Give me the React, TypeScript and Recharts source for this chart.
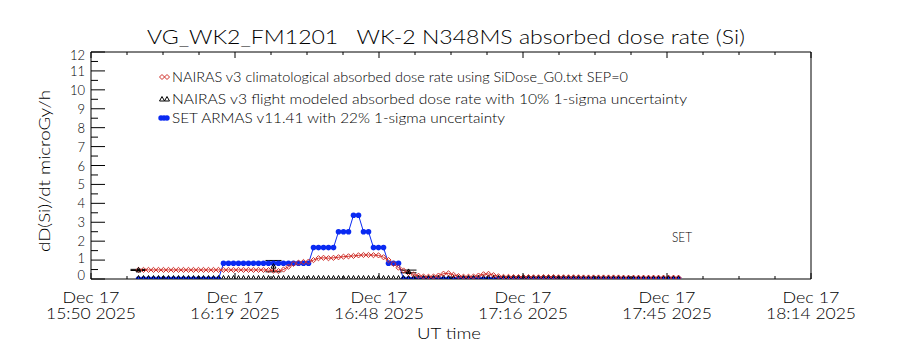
import React from 'react';
import { ComposedChart, Line, Scatter, ErrorBar, XAxis, YAxis } from 'recharts';

// minutes after 15:50 UT of the first sample, one sample per minute after that
const START_MIN = 9.5;

// SET ARMAS v11.41 dose rate (microGy/h)
const armasRate = [
  0, 0, 0, 0, 0, 0, 0, 0, 0, 0, 0, 0, 0, 0, 0, 0, 0,
  0.83, 0.83, 0.83, 0.83, 0.83, 0.83, 0.83, 0.83, 0.83, 0.83, 0.83, 0.83, 0.83, 0.83, 0.83, 0.83, 0.83, 0.83,
  1.66, 1.66, 1.66, 1.66, 1.66,
  2.5, 2.5, 2.5,
  3.37, 3.37,
  2.5, 2.5,
  1.66, 1.66, 1.66,
  0.83, 0.83, 0.83,
  0, 0, 0, 0, 0, 0, 0, 0, 0, 0, 0, 0, 0, 0, 0, 0, 0, 0, 0, 0, 0, 0, 0, 0, 0, 0, 0, 0,
  0, 0, 0, 0, 0, 0, 0, 0, 0, 0, 0, 0, 0, 0, 0, 0, 0, 0, 0, 0, 0, 0, 0, 0, 0, 0, 0, 0,
];

// NAIRAS v3 climatological rate (SiDose_G0.txt, SEP=0)
const climRate = [
  0.48, 0.48, 0.48, 0.48, 0.48, 0.48, 0.48, 0.48, 0.48, 0.48, 0.48, 0.48, 0.48,
  0.48, 0.48, 0.48, 0.48, 0.48, 0.48, 0.48, 0.48, 0.48, 0.48, 0.48, 0.48, 0.48,
  0.47, 0.44, 0.42, 0.5, 0.65, 0.8, 0.86, 0.9, 0.92, 1.0, 1.1, 1.12, 1.1, 1.12,
  1.15, 1.18, 1.2, 1.22, 1.25, 1.27, 1.27, 1.26, 1.25, 1.15, 1.0, 0.8, 0.6, 0.45,
  0.32, 0.24, 0.17, 0.13, 0.12, 0.13, 0.18, 0.28, 0.3, 0.22, 0.15, 0.12, 0.12, 0.13,
  0.18, 0.25, 0.27, 0.2, 0.14,
  0.11, 0.11, 0.1, 0.1, 0.1, 0.1, 0.09, 0.09, 0.1, 0.1, 0.1, 0.09, 0.09, 0.09, 0.09,
  0.09, 0.08, 0.08, 0.08, 0.08, 0.08, 0.08, 0.08, 0.08, 0.07, 0.07, 0.07, 0.07, 0.07,
  0.07, 0.07, 0.07, 0.07, 0.07, 0.07, 0.07,
];

// NAIRAS v3 flight modeled rate, baseline samples
const flightRate = [
  0, 0, 0, 0, 0, 0, 0, 0, 0, 0, 0, 0, 0, 0, 0, 0, 0, 0, 0, 0, 0, 0, 0, 0, 0, 0, 0,
  0, 0, 0, 0, 0, 0, 0, 0, 0, 0, 0, 0, 0, 0, 0, 0, 0, 0, 0, 0, 0, 0, 0, 0, 0, 0, 0,
  0, 0, 0, 0, 0, 0, 0, 0, 0, 0, 0, 0, 0, 0, 0, 0, 0, 0, 0, 0, 0, 0, 0, 0, 0, 0, 0,
  0, 0, 0, 0, 0, 0, 0, 0, 0, 0, 0, 0, 0, 0, 0, 0, 0, 0, 0, 0, 0, 0, 0, 0, 0, 0, 0, 0,
];

// flight modeled points with 1-sigma error
const flightMin = [9.5, 36.5, 63.5];
const flightVal = [0.48, 0.68, 0.4];
const flightErr = [0.03, 0.3, 0.07];

const xTicks = [0, 7.2, 14.4, 21.6, 28.8, 36, 43.2, 50.4, 57.6, 64.8, 72, 79.2, 86.4, 93.6, 100.8, 108, 115.2, 122.4, 129.6, 136.8, 144];
const xMajorLabels = ['15:50', '16:19', '16:48', '17:16', '17:45', '18:14'];
const yTicks = [0, 0.5, 1, 1.5, 2, 2.5, 3, 3.5, 4, 4.5, 5, 5.5, 6, 6.5, 7, 7.5, 8, 8.5, 9, 9.5, 10, 10.5, 11, 11.5, 12];

const FONT = 'Lato, "Liberation Sans", sans-serif';
const FW = 300;
const RED = '#d0302a';
const BLUE = '#0a2af2';

const rows = armasRate.map((a, i) => ({
  t: START_MIN + i,
  armas: a,
  clim: climRate[i],
  flight: flightRate[i],
}));

const flightPts = flightMin.map((t, i) => ({ t, v: flightVal[i], e: flightErr[i] }));

const isMajorX = (v: number) => Math.round(v / 7.2) % 4 === 0;

const BottomTick = ({ x, y, payload }: any) => {
  const v = payload.value;
  const major = isMajorX(v);
  const lbl = xMajorLabels[Math.round(v / 28.8)];
  return (
    <g>
      <line x1={x} x2={x} y1={y} y2={y - (major ? 6 : 3)} stroke="#000" />
      {major && (
        <text x={x} y={y + 24} textAnchor="middle" fontSize={16} fontWeight={FW} fontFamily={FONT} fill="#000" textLength={57} lengthAdjust="spacingAndGlyphs">
          Dec 17
        </text>
      )}
      {major && (
        <text x={x} y={y + 40} textAnchor="middle" fontSize={16} fontWeight={FW} fontFamily={FONT} fill="#000" textLength={90} lengthAdjust="spacingAndGlyphs">
          {lbl} 2025
        </text>
      )}
    </g>
  );
};

const TopTick = ({ x, y, payload }: any) => (
  <line x1={x} x2={x} y1={y} y2={y + (isMajorX(payload.value) ? 6 : 3)} stroke="#000" />
);

const LeftTick = ({ x, y, payload }: any) => {
  const v = payload.value;
  const major = Number.isInteger(v);
  const dy = v === 12 ? 8 : v === 0 ? 1 : v === 1 ? 3 : 5;
  return (
    <g>
      <line x1={x} x2={x + (major ? 14 : 7)} y1={y} y2={y} stroke="#000" />
      {major && (
        <text x={x - 6} y={y + dy} textAnchor="end" fontSize={13} fontWeight={FW} fontFamily={FONT} fill="#000">
          {v}
        </text>
      )}
    </g>
  );
};

const RightTick = ({ x, y, payload }: any) => (
  <line x1={x} x2={x - (Number.isInteger(payload.value) ? 14 : 7)} y1={y} y2={y} stroke="#000" />
);

const diamond = (cx: number, cy: number, r: number) =>
  `M${cx},${cy - r}L${cx + r},${cy}L${cx},${cy + r}L${cx - r},${cy}Z`;

const triangle = (cx: number, cy: number, r: number) =>
  `M${cx - r},${cy + r * 0.8}L${cx},${cy - r}L${cx + r},${cy + r * 0.8}Z`;

const ClimDot = (p: any) => (
  <path key={`c-${p.index}`} d={diamond(p.cx, p.cy, 2.6)} fill="none" stroke={RED} strokeWidth={1} />
);

const ArmasDot = (p: any) => <circle key={`a-${p.index}`} cx={p.cx} cy={p.cy} r={2.8} fill={BLUE} />;

const FlightDot = (p: any) => (
  <path key={`f-${p.index}`} d={`M${p.cx - 1.8},${p.cy}L${p.cx},${p.cy - 3.5}L${p.cx + 1.8},${p.cy}`} fill="none" stroke="#000" strokeWidth={1} />
);

const FlightShape = (p: any) => (
  <path d={triangle(p.cx, p.cy, 2.5)} fill="none" stroke="#000" strokeWidth={1} />
);

const Overlay = () => (
  <svg width={900} height={350} style={{ position: 'absolute', left: 0, top: 0, pointerEvents: 'none' }}>
    <g fontFamily={FONT} fontWeight={FW} fill="#000">
      <text x={446} y={44} textAnchor="middle" fontSize={20} textLength={598} lengthAdjust="spacingAndGlyphs" style={{ whiteSpace: 'pre' }}>
        VG_WK2_FM1201   WK-2 N348MS absorbed dose rate (Si)
      </text>
      <text transform="translate(50,171) rotate(-90)" textAnchor="middle" fontSize={16} textLength={162} lengthAdjust="spacingAndGlyphs">
        dD(Si)/dt microGy/h
      </text>
      <text x={449} y={339} textAnchor="middle" fontSize={16} textLength={64} lengthAdjust="spacingAndGlyphs">
        UT time
      </text>
      <text x={672} y={242} fontSize={14} textLength={20} lengthAdjust="spacingAndGlyphs">
        SET
      </text>
      <text x={172} y={82} fontSize={14} textLength={456} lengthAdjust="spacingAndGlyphs">
        NAIRAS v3 climatological absorbed dose rate using SiDose_G0.txt SEP=0
      </text>
      <text x={172} y={104} fontSize={14} textLength={515} lengthAdjust="spacingAndGlyphs">
        NAIRAS v3 flight modeled absorbed dose rate with 10% 1-sigma uncertainty
      </text>
      <text x={172} y={123} fontSize={14} textLength={333} lengthAdjust="spacingAndGlyphs">
        SET ARMAS v11.41 with 22% 1-sigma uncertainty
      </text>
    </g>
    <path d={diamond(162, 77, 2.5)} fill="none" stroke={RED} />
    <path d={diamond(167, 77, 2.5)} fill="none" stroke={RED} />
    <path d={triangle(162, 99, 2.5)} fill="none" stroke="#000" />
    <path d={triangle(167, 99, 2.5)} fill="none" stroke="#000" />
    <circle cx={161} cy={118} r={2.7} fill={BLUE} />
    <circle cx={164} cy={118} r={2.7} fill={BLUE} />
    <circle cx={167} cy={118} r={2.7} fill={BLUE} />
  </svg>
);

export default function App() {
  return (
    <div style={{ position: 'absolute', left: 0, top: 0, width: 900, height: 350, background: '#fff' }}>
      <ComposedChart width={900} height={350} data={rows} margin={{ top: 51, right: 88, bottom: 0, left: 0 }}>
        <XAxis
          xAxisId="b"
          dataKey="t"
          type="number"
          domain={[0, 144]}
          ticks={xTicks}
          interval={0}
          height={71}
          tickSize={0}
          tickMargin={0}
          tickLine={false}
          axisLine={{ stroke: '#000' }}
          tick={<BottomTick />}
          allowDataOverflow
        />
        <XAxis
          xAxisId="top"
          orientation="top"
          dataKey="t"
          type="number"
          domain={[0, 144]}
          ticks={xTicks}
          interval={0}
          height={1}
          tickSize={0}
          tickMargin={0}
          tickLine={false}
          axisLine={{ stroke: '#000' }}
          tick={<TopTick />}
        />
        <YAxis
          yAxisId="l"
          type="number"
          domain={[0, 12]}
          ticks={yTicks}
          interval={0}
          width={91}
          tickSize={0}
          tickMargin={0}
          tickLine={false}
          axisLine={{ stroke: '#000' }}
          tick={<LeftTick />}
          allowDataOverflow
        />
        <YAxis
          yAxisId="right"
          orientation="right"
          type="number"
          domain={[0, 12]}
          ticks={yTicks}
          interval={0}
          width={1}
          tickSize={0}
          tickMargin={0}
          tickLine={false}
          axisLine={{ stroke: '#000' }}
          tick={<RightTick />}
        />
        <Line
          xAxisId="b"
          yAxisId="l"
          dataKey="armas"
          type="linear"
          stroke={BLUE}
          strokeWidth={1}
          dot={ArmasDot}
          activeDot={false}
          isAnimationActive={false}
        />
        <Line
          xAxisId="b"
          yAxisId="l"
          dataKey="flight"
          type="linear"
          stroke="none"
          dot={FlightDot}
          activeDot={false}
          isAnimationActive={false}
        />
        <Line
          xAxisId="b"
          yAxisId="l"
          dataKey="clim"
          type="linear"
          stroke={RED}
          strokeWidth={1}
          dot={ClimDot}
          activeDot={false}
          isAnimationActive={false}
        />
        <Scatter xAxisId="b" yAxisId="l" data={flightPts} dataKey="v" shape={FlightShape} isAnimationActive={false}>
          <ErrorBar dataKey="e" direction="y" width={8} stroke="#000" strokeWidth={1} />
        </Scatter>
      </ComposedChart>
      <Overlay />
    </div>
  );
}
